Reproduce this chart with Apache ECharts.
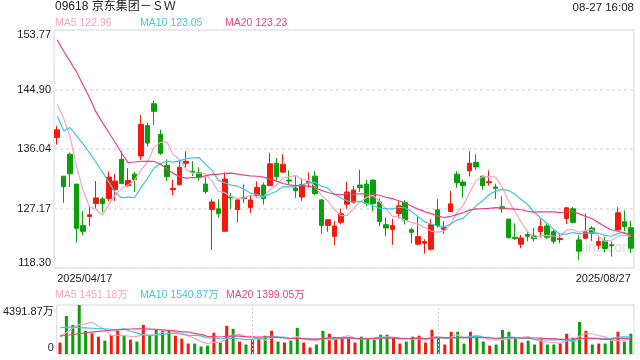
<!DOCTYPE html>
<html>
<head>
<meta charset="utf-8">
<style>html,body{margin:0;padding:0;background:#fff}#c{width:640px;height:360px}</style>
<script src="https://cdn.jsdelivr.net/npm/echarts@6/dist/echarts.min.js"></script>
</head>
<body>
<div id="c"></div>
<script>
const titleText = '09618 京东集团－ＳＷ';
const timeText = '08-27 16:08';
const dates = [
 '2025/04/17','2025/04/22','2025/04/23','2025/04/24','2025/04/25','2025/04/28','2025/04/29','2025/04/30',
 '2025/05/02','2025/05/06','2025/05/07','2025/05/08','2025/05/09','2025/05/12','2025/05/13','2025/05/14','2025/05/15','2025/05/16',
 '2025/05/19','2025/05/20','2025/05/21','2025/05/22','2025/05/23','2025/05/26','2025/05/27','2025/05/28','2025/05/29','2025/05/30',
 '2025/06/02','2025/06/03','2025/06/04','2025/06/05','2025/06/06','2025/06/09','2025/06/10','2025/06/11','2025/06/12','2025/06/13',
 '2025/06/16','2025/06/17','2025/06/18','2025/06/19','2025/06/20','2025/06/23','2025/06/24','2025/06/25','2025/06/26','2025/06/27','2025/06/30',
 '2025/07/02','2025/07/03','2025/07/04','2025/07/07','2025/07/08','2025/07/09','2025/07/10','2025/07/11','2025/07/14','2025/07/15',
 '2025/07/16','2025/07/17','2025/07/18','2025/07/21','2025/07/22','2025/07/23','2025/07/24','2025/07/25','2025/07/28','2025/07/29',
 '2025/07/30','2025/07/31','2025/08/01','2025/08/04','2025/08/05','2025/08/06','2025/08/07','2025/08/08','2025/08/11','2025/08/12',
 '2025/08/13','2025/08/14','2025/08/15','2025/08/18','2025/08/19','2025/08/20','2025/08/21','2025/08/22','2025/08/25','2025/08/26','2025/08/27'
];
const opens = [137.76,131.99,135.25,130.81,124.61,125.98,127.91,128.60,128.64,129.97,
 134.51,130.57,132.29,134.99,139.53,142.78,138.20,133.62,129.97,130.71,
 133.92,132.73,132.49,130.81,127.02,127.12,123.77,128.89,127.02,128.79,
 127.31,129.14,130.66,130.57,133.92,132.59,131.40,130.22,128.89,131.01,
 131.99,128.45,124.65,123.03,125.10,127.81,128.10,130.66,130.81,131.40,
 128.15,124.75,124.06,126.43,128.05,124.01,121.85,121.99,121.11,126.97,
 124.06,126.72,132.29,131.11,132.78,134.06,131.99,131.01,130.37,127.41,
 125.59,122.88,121.85,123.28,123.08,123.72,124.56,123.72,122.54,125.69,
 127.12,122.49,122.73,124.26,121.70,122.34,121.75,123.97,125.20,124.31];
const closes = [138.89,130.42,132.34,124.21,123.77,126.23,128.74,127.91,131.85,131.26,
 130.91,131.35,131.45,139.68,136.92,141.65,135.39,131.90,130.17,133.32,
 134.21,132.54,131.85,129.68,128.15,126.43,131.55,128.74,128.45,128.64,
 128.45,130.32,128.64,133.82,131.90,133.77,131.26,129.83,130.71,131.21,
 129.38,124.65,125.49,124.56,126.38,129.63,129.93,130.27,127.91,127.91,
 125.25,124.26,124.61,127.56,125.44,123.62,122.98,122.24,124.75,124.65,
 124.31,127.86,131.01,130.57,133.92,133.37,130.57,131.16,130.17,127.12,
 122.83,122.68,122.78,123.03,122.68,124.46,122.88,122.29,122.68,127.27,
 125.10,120.81,123.67,123.47,122.24,121.21,121.60,126.53,124.46,121.26];
const highs = [139.48,132.00,135.49,130.81,126.82,127.56,131.26,128.89,132.68,132.29,
 135.69,133.18,132.59,141.11,139.97,143.23,138.94,134.51,131.45,134.31,
 135.69,134.21,133.32,131.85,128.55,128.55,132.54,129.48,128.55,130.76,
 129.19,131.21,131.01,135.49,134.70,135.25,132.83,131.99,131.70,132.54,
 132.73,128.55,125.59,125.30,127.17,131.16,130.52,132.98,131.45,131.50,
 128.64,125.84,125.64,128.25,128.40,124.31,125.89,122.59,125.59,128.60,
 125.30,129.78,132.73,131.45,135.69,135.25,132.04,132.83,130.86,128.99,
 125.59,124.95,123.23,123.87,124.26,125.59,124.95,124.06,123.47,127.32,
 127.41,123.18,126.43,124.56,122.93,122.98,122.24,127.36,126.87,125.34];
const lows = [136.67,128.00,130.37,122.09,123.18,124.56,127.17,126.58,128.25,128.30,
 130.86,130.42,129.63,134.41,136.38,139.58,135.15,131.26,129.14,130.66,
 133.32,131.99,131.30,129.38,121.01,125.84,123.77,127.12,125.10,128.00,
 126.48,128.79,127.76,130.57,131.11,132.49,130.81,128.74,128.30,130.27,
 129.14,123.37,123.72,121.70,124.80,127.12,127.91,129.63,127.56,126.77,
 124.51,123.03,121.75,125.69,124.80,121.99,121.65,120.47,120.91,124.31,
 123.37,126.72,130.27,128.79,131.95,132.93,129.97,130.57,128.60,126.53,
 122.68,122.49,121.26,122.29,122.29,122.88,122.63,121.90,121.99,124.85,
 124.95,119.53,122.63,122.34,121.11,120.62,120.02,123.87,123.82,120.52];
// volume in 万 shares
const volumes = [1025,3396,2606,4392,2079,1845,1552,1200,1698,2079,
 1669,1288,1113,2606,1669,2167,2079,2108,1640,1376,
 937,937,673,761,1903,1025,2518,2254,1113,849,
 1318,1318,1640,2079,1113,1025,1200,2342,1025,586,
 849,2079,1815,1347,1464,1523,1025,1552,1347,1288,
 1727,1727,1464,937,1113,1552,1640,1025,2167,1552,
 849,1991,1991,937,1991,1552,1113,761,849,2167,
 1991,1464,1025,1200,849,1376,849,849,937,1815,
 1464,2869,2079,849,937,937,1288,1991,1113,1815];
// MA values before enough window data is visible
const ma5Head = [142.7,140.6,137.9,133.4];
const ma10Head = [140.96,138.74,139.24,138.0,136.8,135.5,134.1,132.6,131.1];
const ma20Head = [152.3,150.6,149.1,147.5,145.6,143.7,141.6,140.0,138.5,137.0,135.4,134.0,134.1,134.2,134.2,134.2,133.8,133.1,132.4];
const volMa5Head = [1650,1900,2350,2650];
const volMa10Head = [2342,2430,2400,2370,2340,2310,2280,2250,2220];
const volMa20Head = [1610,1680,1750,1820,1890,1960,2020,2080,2130,2170,2210,2240,2255,2250,2230,2200,2160,2120,2080];
const maLegend = ['122.96','123.05','123.23'];
const volMaLegend = ['1451.18','1540.87','1399.05'];
const priceMin = 118.30, priceMax = 153.77;
const volMax = 4391.87;
const volMarkDates = ['2025/06/04','2025/07/16'];

const RED = '#f2190d', GREEN = '#0b9f0b';
const C5 = '#f7a3c1', C10 = '#3fc5df', C20 = '#ea447d';
const FONT = "'Liberation Sans', Arial, 'Noto Sans CJK SC', sans-serif";

function movingAvg(arr, n, head) {
  return arr.map((v, i) => {
    if (i < n - 1) return head[i];
    let s = 0;
    for (let k = i - n + 1; k <= i; k++) s += arr[k];
    return +(s / n).toFixed(3);
  });
}
const kData = dates.map((d, i) => [opens[i], closes[i], lows[i], highs[i]]);
const volData = volumes.map((v, i) => ({value: v, itemStyle: {color: closes[i] >= opens[i] ? RED : GREEN}}));

const chart = echarts.init(document.getElementById('c'), null, {renderer: 'canvas'});
const lineBase = {type: 'line', showSymbol: false, symbol: 'none', smooth: false, silent: true, animation: false};
const richTop = (pad) => ({fontSize: 11, color: '#222', fontFamily: FONT, padding: [pad, 0, 0, 0]});
const richBot = (pad) => ({fontSize: 11, color: '#222', fontFamily: FONT, padding: [0, 0, pad, 0]});

chart.setOption({
  animation: false,
  textStyle: {fontFamily: FONT},
  grid: [
    {left: 54, right: 6, top: 30, height: 238, show: true, borderColor: '#d9d9d9', borderWidth: 1, containLabel: false},
    {left: 54, right: 6, top: 305, height: 49, show: true, borderColor: '#d9d9d9', borderWidth: 1, containLabel: false}
  ],
  xAxis: [
    {type: 'category', gridIndex: 0, data: dates, boundaryGap: true,
     axisLine: {show: false}, axisTick: {show: false}, splitLine: {show: false},
     axisLabel: {interval: (i) => i === 0, align: 'left', margin: 5, fontSize: 11, color: '#222', fontFamily: FONT}},
    {type: 'category', gridIndex: 0, data: dates, boundaryGap: true, position: 'bottom',
     axisLine: {show: false}, axisTick: {show: false}, splitLine: {show: false},
     axisLabel: {interval: (i) => i === dates.length - 1, align: 'right', margin: 5, fontSize: 11, color: '#222', fontFamily: FONT}},
    {type: 'category', gridIndex: 1, data: dates, boundaryGap: true,
     axisLine: {show: false}, axisTick: {show: false}, splitLine: {show: false}, axisLabel: {show: false}}
  ],
  yAxis: [
    {type: 'value', gridIndex: 0, min: priceMin, max: priceMax, interval: (priceMax - priceMin) / 4,
     axisLine: {show: false}, axisTick: {show: false},
     splitLine: {show: true, lineStyle: {color: '#e6e6e6', width: 2, type: [3, 3]}},
     axisLabel: {margin: 3, fontSize: 11, color: '#222', fontFamily: FONT,
       formatter: (v) => {
         const t = (Math.round(v * 100 + 1e-6) / 100).toFixed(2);
         if (Math.abs(v - priceMax) < 1e-6) return '{t|' + t + '}';
         if (Math.abs(v - priceMin) < 1e-6) return '{b|' + t + '}';
         return t;
       },
       rich: {t: richTop(10), b: richBot(10)}}},
    {type: 'value', gridIndex: 1, min: 0, max: volMax, interval: volMax,
     axisLine: {show: false}, axisTick: {show: false}, splitLine: {show: false},
     axisLabel: {margin: 3, fontSize: 11, color: '#222', fontFamily: FONT,
       formatter: (v) => v === 0 ? '{b|0}' : '{t|' + v.toFixed(2) + '万}',
       rich: {t: richTop(14), b: richBot(12)}}}
  ],
  series: [
    {type: 'candlestick', name: 'K', xAxisIndex: 0, yAxisIndex: 0, data: kData, barWidth: 5,
     itemStyle: {color: RED, color0: GREEN, borderColor: RED, borderColor0: GREEN, borderWidth: 1}},
    Object.assign({}, lineBase, {name: 'MA5', xAxisIndex: 0, yAxisIndex: 0, data: movingAvg(closes, 5, ma5Head), lineStyle: {color: C5, width: 1.2}}),
    Object.assign({}, lineBase, {name: 'MA10', xAxisIndex: 0, yAxisIndex: 0, data: movingAvg(closes, 10, ma10Head), lineStyle: {color: C10, width: 1.2}}),
    Object.assign({}, lineBase, {name: 'MA20', xAxisIndex: 0, yAxisIndex: 0, data: movingAvg(closes, 20, ma20Head), lineStyle: {color: C20, width: 1.2}}),
    {type: 'bar', name: 'VOL', xAxisIndex: 2, yAxisIndex: 1, data: volData, barWidth: 3,
     markLine: {silent: true, symbol: 'none', label: {show: false},
       lineStyle: {color: '#cfcfcf', type: [2, 2], width: 1},
       data: volMarkDates.map(d => ({xAxis: d}))}},
    Object.assign({}, lineBase, {name: 'VMA5', xAxisIndex: 2, yAxisIndex: 1, data: movingAvg(volumes, 5, volMa5Head), lineStyle: {color: C5, width: 1.2}}),
    Object.assign({}, lineBase, {name: 'VMA10', xAxisIndex: 2, yAxisIndex: 1, data: movingAvg(volumes, 10, volMa10Head), lineStyle: {color: C10, width: 1.2}}),
    Object.assign({}, lineBase, {name: 'VMA20', xAxisIndex: 2, yAxisIndex: 1, data: movingAvg(volumes, 20, volMa20Head), lineStyle: {color: C20, width: 1.2}})
  ],
  graphic: [
    {type: 'text', left: 55, top: 1, style: {text: titleText, fontSize: 12, fill: '#222', fontFamily: FONT}},
    {type: 'text', right: 6, top: 2, style: {text: timeText, fontSize: 11.5, fill: '#222', fontFamily: FONT}},
    {type: 'text', left: 55, top: 18, style: {text: 'MA5 ' + maLegend[0], fontSize: 10.5, fill: C5, fontFamily: FONT}},
    {type: 'text', left: 140, top: 18, style: {text: 'MA10 ' + maLegend[1], fontSize: 10.5, fill: C10, fontFamily: FONT}},
    {type: 'text', left: 225, top: 18, style: {text: 'MA20 ' + maLegend[2], fontSize: 10.5, fill: C20, fontFamily: FONT}},
    {type: 'text', left: 55, top: 290, style: {text: 'MA5 ' + volMaLegend[0] + '万', fontSize: 10.5, fill: C5, fontFamily: FONT}},
    {type: 'text', left: 140, top: 290, style: {text: 'MA10 ' + volMaLegend[1] + '万', fontSize: 10.5, fill: C10, fontFamily: FONT}},
    {type: 'text', left: 226, top: 290, style: {text: 'MA20 ' + volMaLegend[2] + '万', fontSize: 10.5, fill: C20, fontFamily: FONT}},
    {type: 'text', left: 578, top: 241, z: -1, style: {text: 'sina.com', fontSize: 14, fill: '#dcdcdc', fontFamily: FONT}}
  ]
});
</script>
</body>
</html>
